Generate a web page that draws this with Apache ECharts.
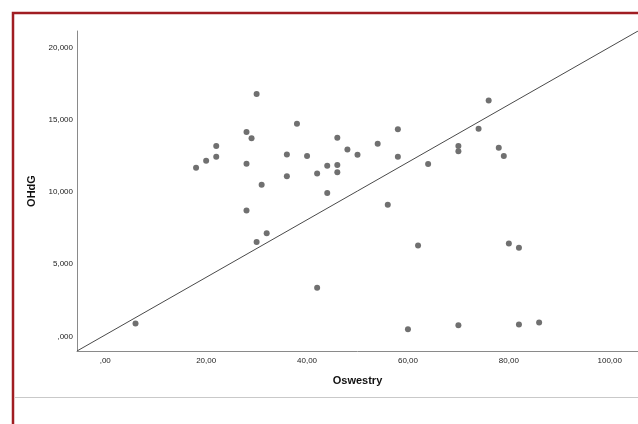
<!DOCTYPE html>
<html>
<head>
<meta charset="utf-8">
<script src="https://cdn.jsdelivr.net/npm/echarts@6/dist/echarts.min.js"></script>
<style>
html,body{margin:0;padding:0;background:#fff;overflow:hidden;}
#chart{width:638px;height:424px;}
</style>
</head>
<body>
<div id="chart"></div>
<script>
// Data
var oswestry = [6, 18, 20, 22, 22, 28, 28, 28, 29, 30, 30, 31, 32, 36, 36, 38, 40, 42, 42, 44, 44, 46, 46, 46, 48, 50, 54, 56, 58, 58, 60, 62, 64, 70, 70, 70, 74, 76, 78, 79, 80, 82, 82, 86];
var ohdg     = [0.90, 11.68, 12.16, 13.17, 12.43, 14.14, 11.95, 8.72, 13.72, 16.77, 6.53, 10.50, 7.15, 12.59, 11.09, 14.72, 12.48, 11.28, 3.37, 11.81, 9.92, 13.75, 11.86, 11.37, 12.94, 12.57, 13.33, 9.11, 14.33, 12.43, 0.51, 6.30, 11.93, 13.18, 12.82, 0.78, 14.37, 16.33, 13.06, 12.48, 6.44, 6.14, 0.83, 0.97];

var xTickValues = [0, 20, 40, 60, 80, 100];
var xTickLabels = [',00', '20,00', '40,00', '60,00', '80,00', '100,00'];
var yTickValues = [0, 5, 10, 15, 20];
var yTickLabels = [',000', '5,000', '10,000', '15,000', '20,000'];

var xMin = -5.6, xMax = 105.6;
var yMin = -1.0, yMax = 21.13;

var points = oswestry.map(function (x, i) { return [x, ohdg[i]]; });

function labelFor(values, labels) {
  return function (v) {
    for (var i = 0; i < values.length; i++) {
      if (Math.abs(values[i] - v) < 1e-6) return labels[i];
    }
    return '';
  };
}

var chart = echarts.init(document.getElementById('chart'), null, {renderer: 'canvas'});
chart.setOption({
  animation: false,
  backgroundColor: '#ffffff',
  textStyle: {fontFamily: 'Liberation Sans, Arial, sans-serif'},
  grid: {left: 77, top: 31, right: 0, bottom: 73, containLabel: false},
  xAxis: {
    type: 'value',
    min: xMin, max: xMax,
    name: 'Oswestry',
    nameLocation: 'middle',
    nameGap: 24,
    nameTextStyle: {fontSize: 11, fontWeight: 'bold', color: '#111', fontFamily: 'Liberation Sans, Arial, sans-serif'},
    axisLine: {show: true, onZero: false, lineStyle: {color: '#8a8a8a', width: 1}},
    axisTick: {show: false},
    splitLine: {show: false},
    axisLabel: {
      customValues: xTickValues,
      formatter: labelFor(xTickValues, xTickLabels),
      fontSize: 8, color: '#222', margin: 6,
      fontFamily: 'Liberation Sans, Arial, sans-serif'
    }
  },
  yAxis: {
    type: 'value',
    min: yMin, max: yMax,
    name: 'OHdG',
    nameLocation: 'middle',
    nameGap: 34,
    nameRotate: 90,
    nameTextStyle: {fontSize: 11, fontWeight: 'bold', color: '#111', fontFamily: 'Liberation Sans, Arial, sans-serif'},
    axisLine: {show: true, onZero: false, lineStyle: {color: '#8a8a8a', width: 1}},
    axisTick: {show: false},
    splitLine: {show: false},
    axisLabel: {
      customValues: yTickValues,
      formatter: labelFor(yTickValues, yTickLabels),
      fontSize: 8, color: '#222', margin: 4,
      fontFamily: 'Liberation Sans, Arial, sans-serif'
    }
  },
  series: [
    {
      type: 'line',
      data: [[xMin, yMin], [xMax, yMax]],
      symbol: 'none',
      silent: true,
      lineStyle: {color: '#4a4a4a', width: 1},
      z: 1
    },
    {
      type: 'scatter',
      data: points,
      symbol: 'circle',
      symbolSize: 6,
      itemStyle: {color: '#707070', opacity: 1},
      z: 2
    }
  ],
  graphic: [
    {
      type: 'rect',
      shape: {x: 13, y: 13, width: 700, height: 600},
      style: {fill: null, stroke: '#a01d22', lineWidth: 2.5},
      silent: true,
      z: 100
    },
    {
      type: 'line',
      shape: {x1: 15, y1: 397.5, x2: 640, y2: 397.5},
      style: {stroke: '#c9c9c9', lineWidth: 1},
      silent: true,
      z: 100
    }
  ]
});
</script>
</body>
</html>
